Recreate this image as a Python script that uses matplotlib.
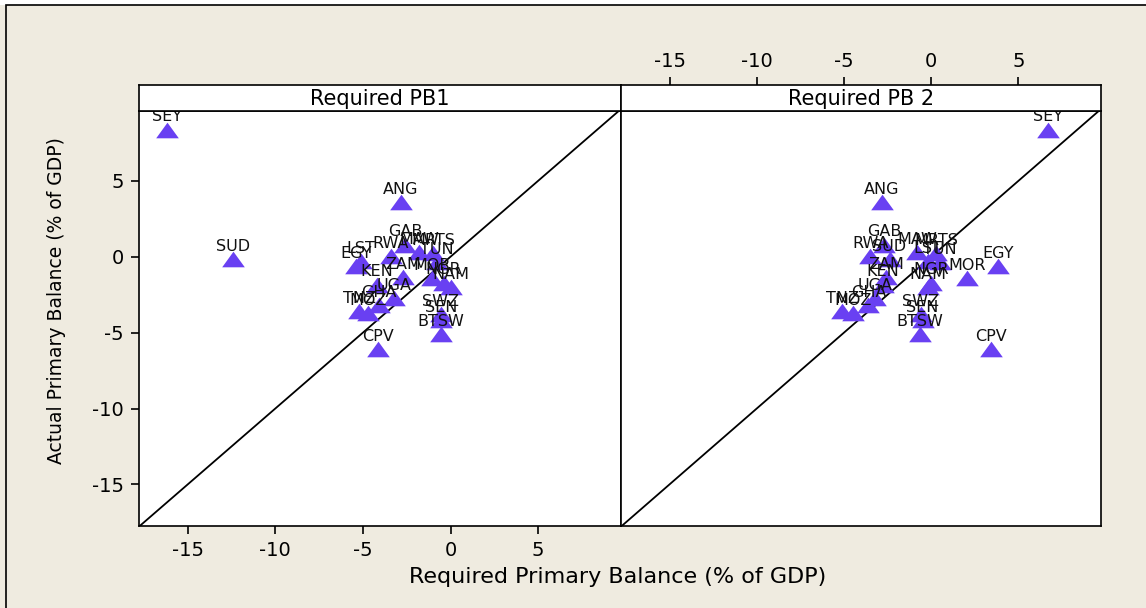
import matplotlib
matplotlib.use("Agg")
import matplotlib.pyplot as plt
from matplotlib.patches import Rectangle

plt.rcParams['axes.unicode_minus'] = False

# country codes and values
countries = ['SEY', 'SUD', 'ANG', 'GAB', 'RWA', 'LST', 'EGY', 'MAW', 'MRTS', 'TUN',
             'ZAM', 'MOR', 'KEN', 'NGR', 'NAM', 'UGA', 'GHA', 'TNZ', 'MOZ', 'SWZ',
             'SEN', 'BTSW', 'CPV']
actual_pb = [8.38, -0.16, 3.59, 0.8, 0.05, -0.3, -0.62, 0.3, 0.25, -0.35,
             -1.35, -1.42, -1.85, -1.7, -2.0, -2.75, -3.2, -3.6, -3.7, -3.8,
             -4.2, -5.1, -6.1]
required_pb1 = [-16.17, -12.42, -2.83, -2.6, -3.4, -5.1, -5.4, -1.8, -1.0, -0.8,
                -2.7, -1.05, -4.2, -0.4, 0.04, -3.2, -4.1, -5.2, -4.7, -0.57,
                -0.53, -0.57, -4.16]
required_pb2 = [6.72, -2.39, -2.85, -2.7, -3.5, -0.2, 3.82, -0.8, 0.3, 0.5,
                -2.6, 2.07, -2.77, 0.0, -0.2, -3.2, -3.6, -5.1, -4.5, -0.59,
                -0.5, -0.64, 3.42]

panel_titles = ['Required PB1', 'Required PB 2']
x_ticks = [-15, -10, -5, 0, 5]
y_ticks = [5, 0, -5, -10, -15]
xlim = (-17.78, 9.73)
ylim = (-17.74, 9.6)

marker_color = '#6940f2'
bg = '#efebe0'
tri = [(-1, -0.69), (1, -0.69), (0, 0.69)]

W, H = 1146, 608
fig = plt.figure(figsize=(W / 100, H / 100), dpi=100, facecolor=bg)

# white strip at very top and the frame line
fig.patches.append(Rectangle((0, 1 - 5 / H), 1, 5 / H, transform=fig.transFigure,
                             facecolor='white', edgecolor='none', zorder=0))
fig.patches.append(Rectangle((6 / W, -0.1), 1.2, 1.1 - 5 / H, transform=fig.transFigure,
                             facecolor='none', edgecolor='black', lw=1.2, zorder=1))

lefts = [139 / W, 621 / W]
widths = [482 / W, 480 / W]
ax_bottom = 1 - 526 / H
ax_height = 415 / H
strip_bottom = 1 - 111 / H
strip_height = 26.4 / H

for i, xs in enumerate([required_pb1, required_pb2]):
    ax = fig.add_axes([lefts[i], ax_bottom, widths[i], ax_height])
    ax.set_facecolor('white')
    ax.set_xlim(*xlim)
    ax.set_ylim(*ylim)
    ax.plot([-30, 30], [-30, 30], color='black', lw=1.3, zorder=1)
    ax.plot(xs, actual_pb, linestyle='none', marker=tri, markersize=16.3,
            color=marker_color, markeredgewidth=0, zorder=2)
    for name, x, y in zip(countries, xs, actual_pb):
        ax.annotate(name, (x, y), xytext=(0, 6), textcoords='offset points',
                    ha='center', va='baseline', fontsize=11.5, color='#111111', zorder=3)
    for s in ax.spines.values():
        s.set_linewidth(1.2)
    if i == 0:
        ax.set_xticks(x_ticks)
        ax.set_yticks(y_ticks)
        ax.tick_params(axis='both', direction='out', length=6, width=1.2,
                       labelsize=14, pad=5)
    else:
        ax.set_xticks([])
        ax.set_yticks([])

    # panel header
    st = fig.add_axes([lefts[i], strip_bottom, widths[i], strip_height])
    st.set_facecolor('white')
    st.set_xlim(*xlim)
    st.set_yticks([])
    for s in st.spines.values():
        s.set_linewidth(1.2)
    st.text(0.5, 0.45, panel_titles[i], transform=st.transAxes, ha='center',
            va='center', fontsize=15)
    if i == 1:
        st.xaxis.tick_top()
        st.set_xticks(x_ticks)
        st.tick_params(axis='x', direction='out', length=6, width=1.2,
                       labelsize=14, pad=4)
    else:
        st.set_xticks([])

fig.text(57 / W, 1 - 301 / H, 'Actual Primary Balance (% of GDP)', rotation=90,
         ha='center', va='center', fontsize=13.5)
fig.text(618 / W, 1 - 577 / H, 'Required Primary Balance (% of GDP)',
         ha='center', va='center', fontsize=16)

fig.savefig('out.png', dpi=100, facecolor=bg)
